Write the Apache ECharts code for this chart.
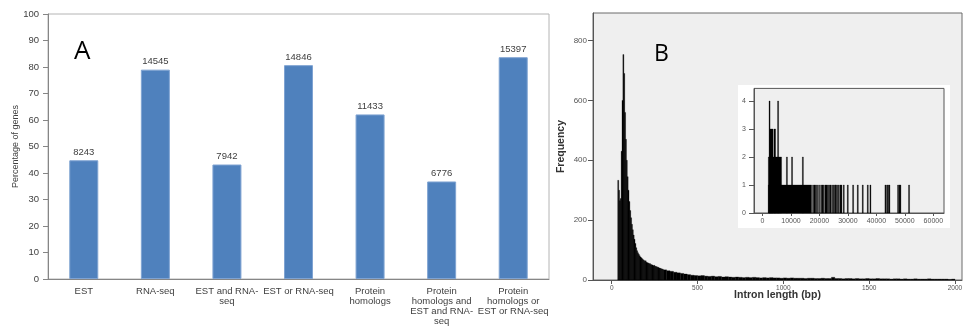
<!DOCTYPE html>
<html>
<head>
<meta charset="utf-8">
<script src="https://cdn.jsdelivr.net/npm/echarts@6/dist/echarts.min.js"></script>
<style>
  html, body { margin: 0; padding: 0; background: #fff; }
  #chart { width: 966px; height: 326px; }
</style>
</head>
<body>
<div id="chart"></div>
<script>
// panel A: gene support
var categories = ['EST', 'RNA-seq', 'EST and RNA-\nseq', 'EST or RNA-seq', 'Protein\nhomologs',
  'Protein\nhomologs and\nEST and RNA-\nseq', 'Protein\nhomologs or\nEST or RNA-seq'];
var geneCounts = [8243, 14545, 7942, 14846, 11433, 6776, 15397];
var genePercent = [44.8, 79.0, 43.2, 80.7, 62.1, 36.8, 83.7];

// panel B: intron length histogram (5 bp bins up to 300, 20 bp bins after)
var peakStart = 35, peakBin = 5;
var peakCounts = [333, 300, 265, 272, 430, 600, 753, 690, 560, 470,
  400, 345, 300, 262, 232, 208, 186, 168, 150, 136,
  122, 108, 98, 91, 86, 81, 77, 74, 71, 68,
  66, 63, 64, 59, 58, 57, 54, 55, 52, 51,
  50, 48, 49, 46, 45, 44, 43, 42, 40, 39,
  38, 37, 36];
var tailStart = 300, tailBin = 20;
var tailCounts = [34, 31, 29, 26, 24, 22, 20, 18, 16, 15,
  14, 15, 13, 12, 13, 11, 12, 10, 11, 10,
  9, 10, 9, 8, 9, 8, 9, 8, 7, 8,
  7, 8, 7, 7, 6, 7, 6, 7, 6, 6,
  6, 5, 6, 6, 5, 5, 6, 5, 5, 9,
  5, 5, 4, 5, 5, 4, 5, 4, 4, 5,
  4, 4, 5, 4, 4, 4, 3, 4, 4, 3,
  4, 3, 3, 4, 3, 3, 3, 4, 3, 3,
  3, 3, 3, 2, 3];
var lengthTicks = [0, 500, 1000, 1500, 2000];
var freqTicks = [0, 200, 400, 600, 800];

// inset: long introns
var insetRunFrom = [2050, 2050, 2600, 4000, 2300, 5300, 8400, 10200, 14000];
var insetRunTo = [17250, 6700, 3700, 4600, 2600, 5600, 8650, 10450, 14250];
var insetRunHeight = [1, 2, 3, 3, 4, 4, 2, 2, 2];
var insetSingles = [17600, 18080, 18540, 19010, 19700, 20420, 20880, 21350, 21940, 22290,
  22760, 23220, 23690, 24280, 24860, 25330, 25570, 26030, 26620, 27200,
  27550, 28370, 29780, 31650, 33290, 35040, 36800, 37730, 43000, 43580,
  43940, 44400, 47440, 47910, 48260, 51300];
var insetXTicks = [0, 10000, 20000, 30000, 40000, 50000, 60000];
var insetYTicks = [0, 1, 2, 3, 4];

var histData = [];
peakCounts.forEach(function (c, i) {
  histData.push([peakStart + i * peakBin, peakStart + (i + 1) * peakBin, c]);
});
tailCounts.forEach(function (c, i) {
  histData.push([tailStart + i * tailBin, tailStart + (i + 1) * tailBin, c]);
});
var insetData = [];
insetRunFrom.forEach(function (f, i) {
  insetData.push([f, insetRunTo[i], insetRunHeight[i]]);
});
insetSingles.forEach(function (f) {
  insetData.push([f, f + 200, 1]);
});

function renderBins(params, api) {
  var p0 = api.coord([api.value(0), api.value(2)]);
  var p1 = api.coord([api.value(1), 0]);
  return {
    type: 'rect',
    shape: { x: p0[0], y: p0[1], width: Math.max(p1[0] - p0[0], 1), height: p1[1] - p0[1] },
    style: { fill: '#000', stroke: '#000', lineWidth: 0.3 }
  };
}
// plain numbers, no thousands separator
function plain(v) { return String(v); }

var fontA = 'Liberation Sans, Arial, sans-serif';
var fontB = 'Liberation Sans, Arial, sans-serif';

var myChart = echarts.init(document.getElementById('chart'));
myChart.setOption({
  animation: false,
  backgroundColor: '#fff',
  title: [
    { text: 'A', left: 74, top: 39, padding: 0,
      textStyle: { fontFamily: 'Open Sans, sans-serif', fontSize: 26, fontWeight: 'normal', color: '#000' } },
    { text: 'B', left: 654, top: 43, padding: 0,
      textStyle: { fontFamily: 'Open Sans, sans-serif', fontSize: 23, fontWeight: 'normal', color: '#000' } }
  ],
  graphic: {
    z: 1,
    elements: [{
      type: 'rect', left: 738, top: 85, z: 1,
      shape: { width: 212, height: 143 },
      style: { fill: '#fff' }
    }]
  },
  grid: [
    { left: 48, top: 14, width: 501, height: 266.5, show: true, borderColor: '#b4b4b4', borderWidth: 1 },
    { left: 593, top: 13, width: 369, height: 267, show: true, backgroundColor: '#efefef',
      borderColor: '#6a6a6a', borderWidth: 1 },
    { left: 754, top: 88.4, width: 190, height: 124.6, show: true, backgroundColor: '#efefef',
      borderColor: '#555', borderWidth: 1, z: 2 }
  ],
  xAxis: [
    {
      type: 'category', gridIndex: 0, data: categories,
      axisLine: { lineStyle: { color: '#868686' } },
      axisTick: { alignWithLabel: true, length: 3, lineStyle: { color: '#868686' } },
      axisLabel: { interval: 0, margin: 7, fontSize: 9.5, lineHeight: 10, color: '#404040', fontFamily: fontA }
    },
    {
      type: 'value', gridIndex: 1, min: -109, max: 2041,
      splitLine: { show: false },
      axisLine: { onZero: false, lineStyle: { color: '#555' } },
      axisTick: { length: 4, customValues: lengthTicks, lineStyle: { color: '#555' } },
      axisLabel: { customValues: lengthTicks, formatter: plain, margin: 5, fontSize: 6.5, color: '#555', fontFamily: fontB },
      name: 'Intron length (bp)', nameLocation: 'middle', nameGap: 10, nameMoveOverlap: false,
      nameTextStyle: { fontSize: 10.5, fontWeight: 'bold', color: '#333', fontFamily: fontB }
    },
    {
      type: 'value', gridIndex: 2, min: -2986, max: 63750, z: 3,
      splitLine: { show: false },
      axisLine: { onZero: false, lineStyle: { color: '#555' } },
      axisTick: { length: 3, customValues: insetXTicks, lineStyle: { color: '#555' } },
      axisLabel: { customValues: insetXTicks, formatter: plain, margin: 5, fontSize: 7, color: '#555', fontFamily: fontB }
    }
  ],
  yAxis: [
    {
      type: 'value', gridIndex: 0, min: 0, max: 100, interval: 10,
      splitLine: { show: false },
      axisLine: { show: true, lineStyle: { color: '#868686' } },
      axisTick: { show: true, length: 5, lineStyle: { color: '#868686' } },
      axisLabel: { margin: 9, fontSize: 9.5, color: '#404040', fontFamily: fontA },
      name: 'Percentage of genes', nameLocation: 'middle', nameGap: 28, nameMoveOverlap: false,
      nameTextStyle: { fontSize: 9, color: '#404040', fontFamily: fontA }
    },
    {
      type: 'value', gridIndex: 1, min: 0, max: 892,
      splitLine: { show: false },
      axisLine: { show: true, onZero: false, lineStyle: { color: '#555' } },
      axisTick: { show: true, length: 5, customValues: freqTicks, lineStyle: { color: '#555' } },
      axisLabel: { customValues: freqTicks, formatter: plain, margin: 6, fontSize: 8, color: '#555', fontFamily: fontB },
      name: 'Frequency', nameLocation: 'middle', nameGap: 26, nameMoveOverlap: false,
      nameTextStyle: { fontSize: 10.5, fontWeight: 'bold', color: '#333', fontFamily: fontB }
    },
    {
      type: 'value', gridIndex: 2, min: 0, max: 4.45, z: 3,
      splitLine: { show: false },
      axisLine: { show: true, onZero: false, lineStyle: { color: '#555' } },
      axisTick: { show: true, length: 5, customValues: insetYTicks, lineStyle: { color: '#555' } },
      axisLabel: { customValues: insetYTicks, margin: 8, fontSize: 7, color: '#555', fontFamily: fontB }
    }
  ],
  series: [
    {
      type: 'bar', xAxisIndex: 0, yAxisIndex: 0, data: genePercent, barWidth: 29,
      itemStyle: { color: '#4f81bd', borderColor: '#7fa3d2', borderWidth: 1 },
      label: {
        show: true, position: 'top', distance: 3, fontSize: 9.5, color: '#404040', fontFamily: fontA,
        formatter: function (p) { return geneCounts[p.dataIndex]; }
      }
    },
    {
      type: 'custom', xAxisIndex: 1, yAxisIndex: 1, data: histData,
      renderItem: renderBins, encode: { x: [0, 1], y: 2 }
    },
    {
      type: 'custom', xAxisIndex: 2, yAxisIndex: 2, data: insetData, z: 4,
      renderItem: renderBins, encode: { x: [0, 1], y: 2 }
    }
  ]
});
</script>
</body>
</html>
